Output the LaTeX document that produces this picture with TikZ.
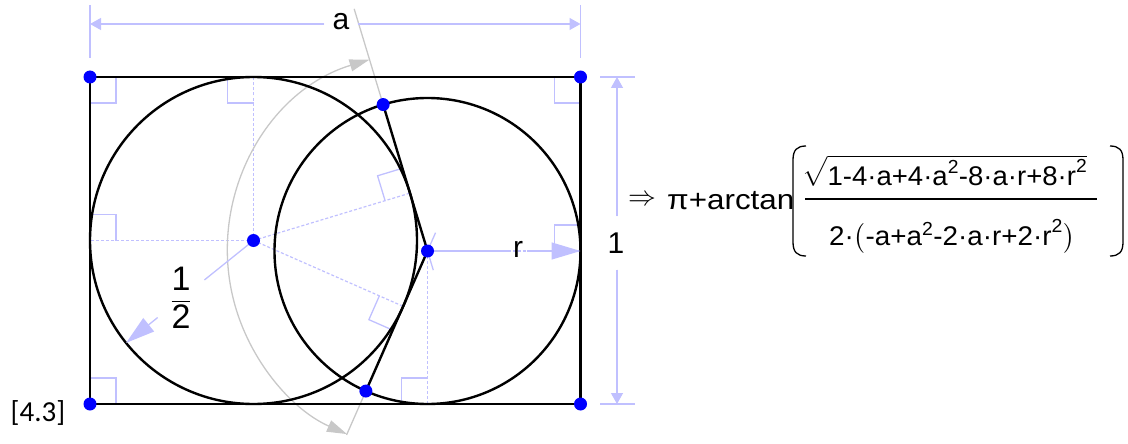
\documentclass[tikz,border=0pt]{standalone}
\usepackage{amsmath}
\usepackage{graphicx}
\usepackage{fontspec}
\setmainfont{Liberation Sans}
\newfontfamily\calib{Carlito}
\usetikzlibrary{arrows.meta,calc}
\definecolor{lb}{RGB}{192,192,255}
\definecolor{gr}{RGB}{200,200,200}
\definecolor{dotblue}{RGB}{0,0,255}
\begin{document}
\begin{tikzpicture}[x=1pt,y=-1pt,
  shapeline/.style={line width=2.4pt, draw=black},
  helper/.style={draw=lb, line width=1.3pt},
  helperdash/.style={draw=lb, line width=1.2pt, dash pattern=on 3pt off 2pt},
  rmark/.style={draw=lb, line width=1.3pt},
  grayline/.style={draw=gr, line width=1.3pt},
  dot/.style={circle, fill=dotblue, inner sep=0pt, minimum size=13pt},
  lbl/.style={font=\fontsize{30}{36}\selectfont, inner sep=0pt},
  fml/.style={font=\fontsize{27}{32}\selectfont, inner sep=0pt},
  paren/.style={draw=black, line width=1.3pt},
  smalltip/.style={-{Triangle[length=11pt,width=12pt]}},
  bigtip/.style={-{Triangle[length=29pt,width=17pt]}},
]
\useasboundingbox (0,0) rectangle (1128,444);

% key points
\coordinate (TL) at (90,77);
\coordinate (TR) at (580.5,77);
\coordinate (BL) at (90,404);
\coordinate (BR) at (580.5,404);
\coordinate (C) at (253.5,240.5);
\coordinate (P) at (427.5,251);
\coordinate (Q1) at (383.15,104.56);
\coordinate (Q2) at (365.89,391.04);
\coordinate (F1) at (409.98,193.14);
\coordinate (F2) at (403.16,306.33);
\coordinate (Ttop) at (253.5,77);
\coordinate (Tleft) at (90,240.5);
\coordinate (Tright) at (580.5,251);
\coordinate (Tbot) at (427.5,404);
\coordinate (H) at (126.1,342.9);

% right-angle marks
\draw[rmark] ($(TL)+(26,0)$) -- ++(0,26) -- ++(-26,0);
\draw[rmark] ($(TR)+(-26,0)$) -- ++(0,26) -- ++(26,0);
\draw[rmark] ($(BL)+(0,-26)$) -- ++(26,0) -- ++(0,26);
\draw[rmark] ($(Ttop)+(-26,0)$) -- ++(0,26) -- ++(26,0);
\draw[rmark] ($(Tleft)+(0,-26)$) -- ++(26,0) -- ++(0,26);
\draw[rmark] ($(Tright)+(0,-26)$) -- ++(-26,0) -- ++(0,26);
\draw[rmark] ($(Tbot)+(-26,0)$) -- ++(0,-26) -- ++(26,0);
\coordinate (F1a) at ($(F1)!26pt!(C)$);
\coordinate (F1b) at ($(F1)!26pt!(Q1)$);
\coordinate (F1c) at ($(F1a)+(F1b)-(F1)$);
\draw[rmark] (F1a) -- (F1c) -- (F1b);
\coordinate (F2a) at ($(F2)!26pt!(C)$);
\coordinate (F2b) at ($(F2)!26pt!(Q2)$);
\coordinate (F2c) at ($(F2a)+(F2b)-(F2)$);
\draw[rmark] (F2a) -- (F2c) -- (F2b);

% dashed radii
\draw[helperdash] (C) -- (Ttop);
\draw[helperdash] (C) -- (Tleft);
\draw[helperdash] (C) -- (F1);
\draw[helperdash] (C) -- (F2);
\draw[helperdash] (P) -- (Tbot);
\draw[helperdash] (P) -- (Tright);
\draw[helper] (P) -- ($(P)!-20pt!(Q2)$);
\draw[helper] (P) -- ($(P)!-20pt!(Q1)$);

% gray angle
\draw[grayline] (Q1) -- ($(P)!253pt!(Q1)$);
\draw[grayline] (Q2) -- ($(P)!201pt!(Q2)$);
\draw[grayline, {Triangle[length=20pt,width=12pt,fill=gr]}-{Triangle[length=20pt,width=12pt,fill=gr]}]
  ($(P)!200pt!(Q1)$) arc[start angle=253.16, end angle=113.74, radius=200];

% black geometry
\draw[shapeline] (TL) -- (TR) -- (BR) -- (BL) -- cycle;
\draw[shapeline] (C) circle[radius=163.5pt];
\draw[shapeline] (P) circle[radius=153pt];
\draw[shapeline, line join=round] (Q1) -- (P) -- (Q2);

% dimension a
\coordinate (EA1a) at (90,5);
\coordinate (EA1b) at (90,58);
\coordinate (EA2a) at (580.5,5);
\coordinate (EA2b) at (580.5,58);
\draw[helper] (EA1a) -- (EA1b);
\draw[helper] (EA2a) -- (EA2b);
\coordinate (DA1) at (90,24);
\coordinate (DA2) at (580.5,24);
\node[lbl, minimum width=33pt, minimum height=30pt] (la) at (341,22) {a};
\draw[helper, smalltip, fill=lb] (la.west |- DA1) -- (DA1);
\draw[helper, smalltip, fill=lb] (la.east |- DA2) -- (DA2);

% dimension 1
\coordinate (E1a) at (600,77);
\coordinate (E1b) at (635,77);
\coordinate (E2a) at (600,404);
\coordinate (E2b) at (635,404);
\draw[helper] (E1a) -- (E1b);
\draw[helper] (E2a) -- (E2b);
\coordinate (D11) at (617,77);
\coordinate (D12) at (617,404);
\node[lbl, minimum height=53pt, minimum width=20pt] (l1) at (616,243) {1};
\draw[helper, smalltip, fill=lb] (l1.north -| D11) -- (D11);
\draw[helper, smalltip, fill=lb] (l1.south -| D12) -- (D12);

% dimension r
\node[lbl, minimum width=18pt, minimum height=24pt] (lr) at (518,249) {r};
\draw[helper] (P) -- (lr.west |- P);
\draw[helper, bigtip, fill=lb] (lr.east |- P) -- (Tright);

% dimension 1/2
\node[font=\fontsize{34}{40}\selectfont, inner sep=0pt] (lh) at (181,298) {$\dfrac{\text{1}}{\text{2}}$};
\draw[helper] (C) -- ($(C)!63pt!(H)$);
\draw[helper, bigtip, fill=lb] ($(C)!123pt!(H)$) -- (H);

% formula
\node[inner sep=0pt, font=\fontsize{24}{30}\selectfont] (imp) at (642,200) {\scalebox{1.12}{$\Rightarrow$}};
\node[anchor=base west, inner sep=0pt, font=\fontsize{28}{34}\selectfont] (pit) at (667,209) {\scalebox{1.12}[1]{π+arctan}};
\coordinate (LP1) at (806,146);
\coordinate (LP2) at (806,256);
\coordinate (RP1) at (1110,146);
\coordinate (RP2) at (1110,256);
\draw[paren] (LP1) .. controls (797,146) and (793,150) .. (793,160) -- (793,242) .. controls (793,252) and (797,256) .. (LP2);
\draw[paren] (RP1) .. controls (1119,146) and (1123,150) .. (1123,160) -- (1123,242) .. controls (1123,252) and (1119,256) .. (RP2);
\node[fml, anchor=base west] (num) at (802,185)
 {\scalebox{1.02}[1]{$\sqrt{\text{1-4·a+4·a}^{\text{2}}\text{-8·a·r+8·r}^{\text{2}}}$}};
\coordinate (B1) at (805,199);
\coordinate (B2) at (1097,199);
\draw[paren] (B1) -- (B2);
\node[fml, anchor=base] (den) at (952,245)
 {\scalebox{1.03}[1]{$\text{2·}\bigl(\text{-a+a}^{\text{2}}\text{-2·a·r+2·r}^{\text{2}}\bigr)$}};

% tag
\node[font=\calib\fontsize{29}{34}\selectfont, inner sep=0pt] (tag) at (38,413) {[4.3]};

% dots
\foreach \p in {TL,TR,BL,BR,C,P,Q1,Q2} \node[dot] at (\p) {};
\end{tikzpicture}
\end{document}
